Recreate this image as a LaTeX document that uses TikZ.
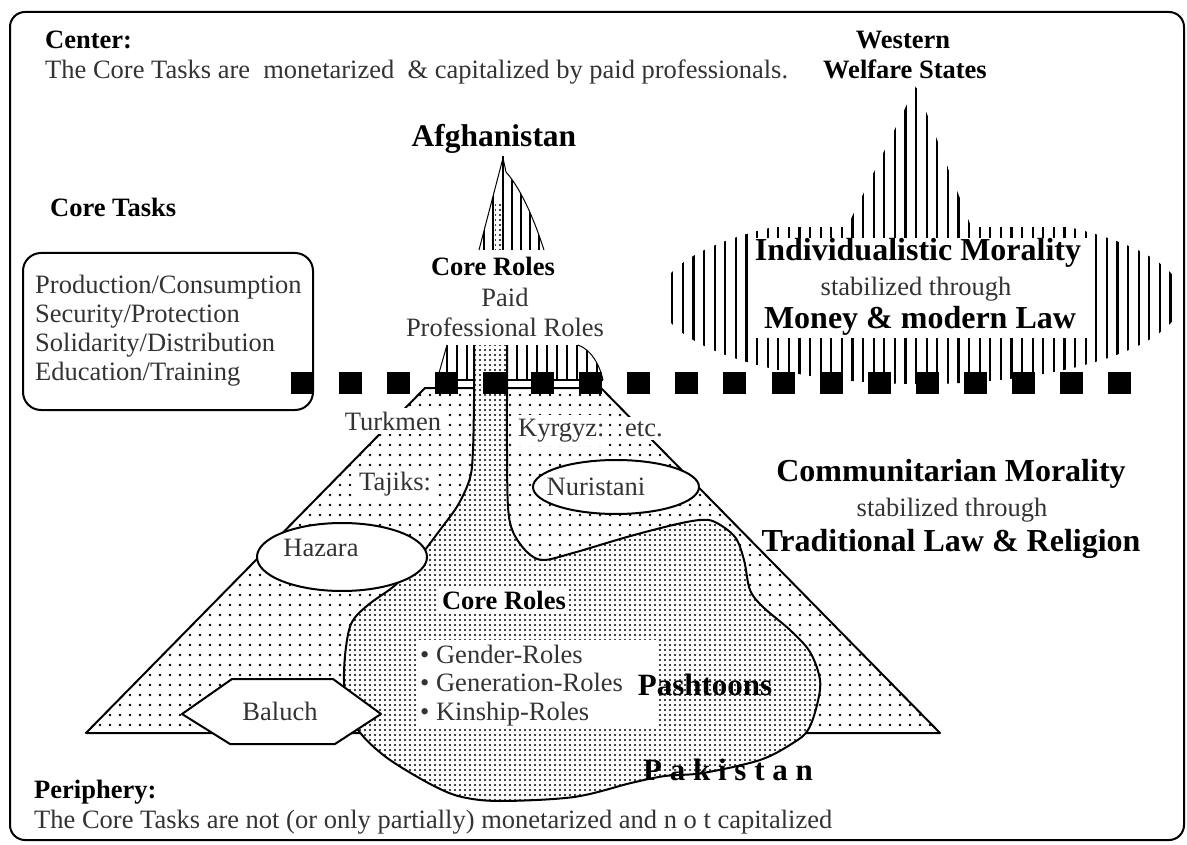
\documentclass[tikz,border=0pt]{standalone}
\usepackage{fontspec}
\setmainfont{Liberation Serif}
\usetikzlibrary{patterns.meta}

\begin{document}
\begin{tikzpicture}[x=1pt, y=-1pt,
    txt/.style={font=\fontsize{26.5}{30}\selectfont, text=black!80, inner sep=0pt},
    boldtxt/.style={font=\fontsize{26.5}{30}\selectfont\bfseries, inner sep=0pt},
    bigtxt/.style={font=\fontsize{32}{36}\selectfont\bfseries, inner sep=0pt},
    tag/.style={txt, fill=white, inner sep=4pt},
    sparse/.style={pattern={Dots[distance=10pt, radius=1.35pt]}},
    dense/.style={pattern={Dots[distance=5pt, radius=1.1pt]}},
    hatch/.style={line width=2.2pt},
    outline/.style={line width=2pt, line join=round},]
    \useasboundingbox (0,0) rectangle (1187,845);

    %Frame and task box
    \draw[line width=2pt, rounded corners=15pt] (10,12) rectangle (1184,840);
    \draw[line width=2pt, rounded corners=18pt] (23,253) rectangle (313,410);

    %Western welfare states
    \begin{scope}
      \clip (660,228) rectangle (1190,400);
      \clip (921,298) ellipse [x radius=261pt, y radius=86pt];
      \foreach \i in {0,...,47} \draw[hatch] ({672.2+10.6*\i},200) -- ++(0,200);
    \end{scope}
    \begin{scope}
      \clip (846,229) -- (916,86) -- (972,229) -- cycle;
      \foreach \i in {16,...,28} \draw[hatch] ({672.2+10.6*\i},80) -- ++(0,150);
    \end{scope}
    \fill[white] (752,238) rectangle (1088,338);

    %Afghanistan spike
    \begin{scope}
      \clip (479,250) -- (503,158) -- (506,172) .. controls (522,190) and (535,222) .. (544,250) -- cycle;
      \foreach \x in {484,493,512,521,530,539} \draw[line width=1.6pt] (\x,150) -- (\x,255);
    \end{scope}
    \draw[line width=1pt] (479,250) -- (503,158) -- (506,172) .. controls (522,190) and (535,222) .. (544,250);
    \draw[line width=2.4pt] (503,156) -- (503,250);
    \path[dense] (495,205) rectangle (501,250);

    %Paid professional roles
    \begin{scope}
      \clip (437,380) -- (447,345) -- (578,345) .. controls (592,350) and (600,366) .. (603,380) -- cycle;
      \foreach \x in {447,457,...,607} \draw[line width=2pt] (\x,340) -- (\x,385);
    \end{scope}
    \draw[line width=1pt] (437,380) -- (447,345);
    \draw[line width=1pt] (578,345) .. controls (592,350) and (600,366) .. (603,380);
    \draw[line width=1.2pt] (437,380) -- (603,380);

    %Periphery triangle
    \path[sparse] (425,388) -- (601,388) -- (940,733) -- (86,733) -- cycle;
    \draw[outline] (425,388) -- (601,388) -- (940,733) -- (86,733) -- cycle;

    %Pashtoon core
    \draw[outline, preaction={fill=white}, preaction={dense}] (474,345) -- plot[smooth, tension=0.55] coordinates {
      (474,400) (473,450) (470,478) (458,505) (440,530) (425,550) (410,570) (393,587)
      (368,605) (352,622) (346,647) (344,680) (348,712) (362,735) (382,754) (404,769)
      (436,787) (462,797) (500,801) (574,797) (631,783) (665,776) (703,773) (760,760)
      (793,743) (808,730) (817,705) (820,680) (810,652) (790,630) (763,607) (750,590)
      (744,560) (735,537) (715,522) (700,520) (673,525) (627,537) (573,553) (543,560)
      (527,552) (513,532) (508,507) (507,450) (507,400)} -- (507,345);

    %Ethnic groups
    \draw[outline, fill=white] (342,557) ellipse [x radius=85pt, y radius=34pt];
    \draw[outline, fill=white] (616,487) ellipse [x radius=83pt, y radius=27pt];
    \draw[outline, fill=white] (182,714) -- (232,679) -- (333,679) -- (381,714) -- (335,744) -- (230,744) -- cycle;
    \fill[white] (418,640) rectangle (658,727);

    %Squares
    \foreach \i in {0,...,17} \fill ({302+48.1*\i-11.5},372) rectangle ++(23,22);

    %Nodes
    \node[boldtxt, anchor=base west] (center) at (45,49) {Center:};
    \node[txt, anchor=base west] (centerline) at (45,79) {The Core Tasks are\ \ monetarized\ \ \& capitalized by paid professionals.};
    \node[boldtxt, anchor=base] (western) at (903,49) {Western};
    \node[boldtxt, anchor=base] (welfare) at (905,79) {Welfare States};
    \node[font=\fontsize{31.5}{34}\selectfont\bfseries, inner sep=0pt, anchor=base] (afghan) at (494,147) {Afghanistan};
    \node[boldtxt, anchor=base west] (tasks) at (50,217) {Core Tasks};
    \node[txt, anchor=base west] (task1) at (35,294) {Production/Consumption};
    \node[txt, anchor=base west] (task2) at (35,323) {Security/Protection};
    \node[txt, anchor=base west] (task3) at (35,352) {Solidarity/Distribution};
    \node[txt, anchor=base west] (task4) at (35,381) {Education/Training};
    \node[boldtxt, anchor=base] (roles) at (493,276) {Core Roles};
    \node[txt, anchor=base] (paid) at (505,307) {Paid};
    \node[txt, anchor=base] (prof) at (505,337) {Professional Roles};
    \node[bigtxt, anchor=base] (indiv) at (918,261) {Individualistic Morality};
    \node[txt, anchor=base] (stab1) at (916,296) {stabilized through};
    \node[bigtxt, anchor=base] (money) at (920,329) {Money \& modern Law};
    \node[bigtxt, anchor=base] (commun) at (951,481) {Communitarian Morality};
    \node[txt, anchor=base] (stab2) at (952,516) {stabilized through};
    \node[bigtxt, anchor=base] (tradition) at (951,551) {Traditional Law \& Religion};
    \node[tag, anchor=base] (turkmen) at (393,430) {Turkmen};
    \node[tag, anchor=base west] (tajiks) at (355,490) {Tajiks:};
    \node[tag, anchor=base west] (kyrgyz) at (514,436) {Kyrgyz:};
    \node[tag, anchor=base west] (etc) at (621,436) {etc.};
    \node[txt, anchor=base] (hazara) at (321,556) {Hazara};
    \node[txt, anchor=base] (nuristani) at (596,495) {Nuristani};
    \node[txt, anchor=base] (baluch) at (280,720) {Baluch};
    \node[boldtxt, fill=white, inner sep=3pt, anchor=base] (coreroles) at (504,609) {Core Roles};
    \node[txt, anchor=base west] (gender) at (420,663) {\textbullet\ Gender-Roles};
    \node[txt, anchor=base west] (generation) at (420,691) {\textbullet\ Generation-Roles};
    \node[txt, anchor=base west] (kinship) at (420,720) {\textbullet\ Kinship-Roles};
    \node[font=\fontsize{31}{34}\selectfont\bfseries, inner sep=0pt, anchor=base] (pashtoons) at (705,695) {Pashtoons};
    \node[font=\fontsize{31}{34}\selectfont\bfseries, inner sep=0pt, anchor=base] (pakistan) at (728,780) {P a k i s t a n};
    \node[boldtxt, anchor=base west] (periphery) at (34,798) {Periphery:};
    \node[txt, anchor=base west] (periline) at (34,828) {The Core Tasks are not (or only partially) monetarized and n o t capitalized};
\end{tikzpicture}
\end{document}
